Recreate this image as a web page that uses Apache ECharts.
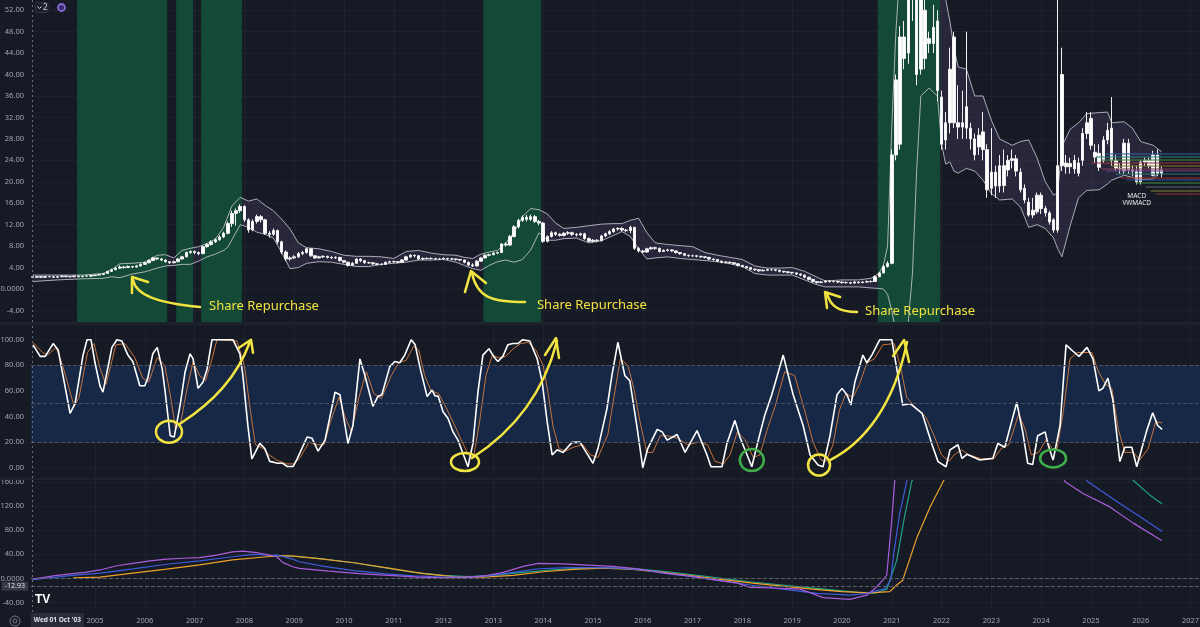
<!DOCTYPE html>
<html>
<head>
<meta charset="utf-8">
<title>Share Repurchase</title>
<script src="https://cdn.jsdelivr.net/npm/echarts@6/dist/echarts.min.js"></script>
<style>
  html, body { margin: 0; padding: 0; background: #161a25; }
  #chart { width: 1200px; height: 627px; }
</style>
</head>
<body>
<div id="chart"></div>
<script>
// monthly candles [open, close, low, high]
var y2003 = [[2.3,2.2,2.1,2.4],[2.2,2.3,2.1,2.4],[2.3,2.2,2.1,2.4]];
var y2004 = [[2.2,2.3,2.1,2.4],[2.3,2.3,2.2,2.4],[2.3,2.2,2.1,2.4],[2.2,2.3,2.1,2.4],[2.3,2.4,2.2,2.5],[2.4,2.3,2.2,2.5],[2.3,2.3,2.2,2.4],[2.3,2.4,2.2,2.5],[2.4,2.3,2.2,2.5],[2.3,2.4,2.2,2.5],[2.4,2.4,2.3,2.6],[2.4,2.5,2.3,2.6]];
var y2005 = [[2.5,2.6,2.4,2.7],[2.6,2.7,2.5,2.8],[2.7,2.9,2.6,3.0],[2.9,3.3,2.8,3.4],[3.3,3.6,3.2,3.8],[3.6,3.9,3.5,4.1],[3.9,4.1,3.7,4.4],[4.1,4.0,3.8,4.3],[4.0,4.2,3.9,4.4],[4.2,4.1,3.9,4.3],[4.1,4.3,4.0,4.5],[4.3,4.6,4.2,4.8]];
var y2006 = [[4.6,4.9,4.5,5.1],[4.9,5.3,4.8,5.5],[5.3,5.8,5.2,6.0],[5.8,5.6,5.4,5.9],[5.6,5.4,5.2,5.8],[5.4,5.1,4.9,5.5],[5.1,4.9,4.7,5.2],[4.9,5.1,4.8,5.3],[5.1,5.6,5.0,5.8],[5.6,6.0,5.5,6.2],[6.0,6.8,5.9,7.0],[6.8,7.0,6.6,7.2]];
var y2007 = [[7.0,6.8,6.5,7.2],[6.8,6.6,6.3,7.0],[6.6,7.9,6.5,8.1],[7.9,8.3,7.7,8.6],[8.3,8.8,8.1,9.1],[8.8,9.2,8.6,9.5],[9.2,9.7,9.0,10.0],[9.7,10.4,9.5,10.7],[10.4,12.2,10.2,12.6],[12.2,14.1,11.6,14.6],[14.1,14.6,11.8,15.0],[14.6,15.4,14.2,15.8]];
var y2008 = [[15.4,12.9,12.5,15.6],[12.9,11.0,10.5,13.2],[11.0,12.6,10.8,13.0],[12.6,13.5,12.2,13.9],[13.5,12.9,12.4,13.8],[12.9,10.4,10.1,13.1],[10.4,10.2,9.6,10.8],[10.2,10.9,9.9,11.3],[10.9,8.8,8.4,11.1],[8.8,6.9,6.5,9.0],[6.9,5.6,5.2,7.2],[5.6,5.8,5.3,6.1]];
var y2009 = [[5.8,6.0,5.6,6.3],[6.0,6.6,5.8,6.9],[6.6,6.8,6.3,7.1],[6.8,7.5,6.6,7.7],[7.5,6.2,6.0,7.6],[6.2,5.8,5.6,6.3],[5.8,6.0,5.7,6.2],[6.0,6.1,5.8,6.3],[6.1,5.9,5.7,6.2],[5.9,5.8,5.6,6.1],[5.8,5.9,5.6,6.1],[5.9,5.3,5.1,6.0]];
var y2010 = [[5.3,5.0,4.8,5.4],[5.0,4.4,4.2,5.1],[4.4,4.8,4.3,5.0],[4.8,5.6,4.7,5.7],[5.6,5.3,5.0,5.7],[5.3,4.9,4.7,5.4],[4.9,4.9,4.7,5.1],[4.9,4.7,4.5,5.0],[4.7,4.6,4.4,4.8],[4.6,4.6,4.4,4.8],[4.6,5.0,4.5,5.1],[5.0,5.1,4.9,5.3]];
var y2011 = [[5.1,5.1,4.9,5.3],[5.1,5.0,4.8,5.2],[5.0,5.4,4.9,5.6],[5.4,6.0,5.3,6.2],[6.0,6.3,5.8,6.5],[6.3,6.2,5.9,6.4],[6.2,5.6,5.4,6.3],[5.6,5.7,5.4,5.9],[5.7,5.7,5.5,5.9],[5.7,5.7,5.5,5.9],[5.7,5.6,5.4,5.8],[5.6,5.6,5.4,5.8]];
var y2012 = [[5.6,5.7,5.5,5.9],[5.7,5.6,5.4,5.8],[5.6,5.6,5.4,5.8],[5.6,5.5,5.3,5.7],[5.5,5.4,5.2,5.6],[5.4,5.0,4.8,5.5],[5.0,4.5,4.3,5.1],[4.5,4.3,4.1,4.8],[4.3,5.2,4.2,5.4],[5.2,5.8,5.1,6.0],[5.8,6.3,5.7,6.5],[6.3,6.4,6.1,6.6]];
var y2013 = [[6.4,6.7,6.3,6.9],[6.7,6.8,6.5,7.0],[6.8,8.4,6.7,8.6],[8.4,8.2,7.9,8.7],[8.2,9.8,8.0,10.1],[9.8,11.6,9.6,11.9],[11.6,12.8,11.3,13.1],[12.8,13.4,12.5,13.7],[13.4,13.0,12.6,13.8],[13.0,13.5,12.7,13.9],[13.5,12.6,12.3,13.8],[12.6,12.3,11.9,12.9]];
var y2014 = [[12.3,8.9,8.6,12.5],[8.9,9.8,8.7,10.0],[9.8,10.5,9.6,10.8],[10.5,10.2,9.9,10.7],[10.2,10.0,9.8,10.4],[10.0,10.4,9.8,10.6],[10.4,10.5,10.1,10.8],[10.5,10.2,9.9,10.7],[10.2,10.1,9.8,10.4],[10.1,10.3,9.9,10.5],[10.3,9.4,9.2,10.5],[9.4,8.9,8.7,9.6]];
var y2015 = [[8.9,9.1,8.7,9.3],[9.1,9.0,8.7,9.3],[9.0,9.9,8.9,10.1],[9.9,10.3,9.7,10.5],[10.3,10.7,10.1,11.0],[10.7,11.2,10.5,11.4],[11.2,11.3,10.9,11.5],[11.3,11.0,10.7,11.5],[11.0,10.9,10.6,11.2],[10.9,11.5,10.4,11.8],[11.5,7.6,7.3,11.6],[7.6,7.1,6.8,7.8]];
var y2016 = [[7.1,6.9,6.7,7.3],[6.9,7.5,6.8,7.7],[7.5,7.7,7.3,7.9],[7.7,7.6,7.3,7.9],[7.6,7.0,6.8,7.7],[7.0,7.2,6.9,7.4],[7.2,7.3,7.0,7.5],[7.3,7.1,6.9,7.4],[7.1,6.8,6.6,7.2],[6.8,6.6,6.4,6.9],[6.6,6.3,6.1,6.7],[6.3,6.2,6.0,6.4]];
var y2017 = [[6.2,6.2,6.0,6.4],[6.2,6.1,5.9,6.3],[6.1,6.0,5.8,6.2],[6.0,5.9,5.7,6.1],[5.9,5.6,5.4,6.0],[5.6,5.5,5.3,5.7],[5.5,5.2,5.0,5.6],[5.2,5.0,4.8,5.3],[5.0,5.0,4.8,5.2],[5.0,4.9,4.7,5.1],[4.9,4.7,4.5,5.0],[4.7,4.4,4.2,4.8]];
var y2018 = [[4.4,4.2,4.0,4.5],[4.2,4.0,3.8,4.3],[4.0,3.7,3.5,4.1],[3.7,3.6,3.4,3.8],[3.6,3.4,3.2,3.7],[3.4,3.5,3.3,3.7],[3.5,3.6,3.4,3.8],[3.6,3.6,3.4,3.8],[3.6,3.5,3.3,3.7],[3.5,3.3,3.1,3.6],[3.3,3.2,3.0,3.4],[3.2,3.1,2.9,3.3]];
var y2019 = [[3.1,3.0,2.8,3.2],[3.0,2.8,2.6,3.1],[2.8,2.6,2.4,2.9],[2.6,2.2,2.0,2.7],[2.2,1.8,1.6,2.3],[1.8,1.4,1.2,1.9],[1.4,1.2,1.0,1.5],[1.2,1.3,1.1,1.5],[1.3,1.5,1.2,1.7],[1.5,1.4,1.2,1.6],[1.4,1.4,1.2,1.6],[1.4,1.3,1.1,1.5]];
var y2020 = [[1.3,1.2,1.0,1.4],[1.2,1.2,1.0,1.4],[1.2,1.1,0.9,1.3],[1.1,1.3,1.0,1.5],[1.3,1.2,1.0,1.4],[1.2,1.3,1.1,1.5],[1.3,1.4,1.2,1.6],[1.4,1.4,1.2,1.6],[1.4,2.3,1.3,2.5],[2.3,3.0,2.2,3.2],[3.0,4.2,2.9,4.5],[4.2,4.8,4.0,5.2]];
var y2021 = [[4.8,25,4.6,26],[25,39,24,40],[27,47,26,49],[47,43,41,50],[44,56,42,60],[56,58,50,64],[55,40,38,58],[41,56,40,60],[52,43,41,56],[46.7,45.8,44,48],[45.8,48.8,44,53],[50,37,35,52]];
var y2022 = [[35.8,27,26,37],[27.8,31,26,33],[31,41,29,45],[47,31,30,48],[31,30.2,28,38],[30.2,31,28,37],[30,34,28,48],[30,28,26,31],[28,25,24,29],[26.5,28.7,25,30],[29.3,26,24,33],[26,18.5,17,27]];
var y2023 = [[18.8,21.8,17.5,30],[21.8,19.2,17,23],[19.2,23,18,25],[23,19.3,18,26],[22.2,24,21,25],[24,24.3,22.5,26],[24.3,22,21,25],[21.8,18.5,18,22.5],[18.8,16.6,16,19.5],[16.2,13.8,13.5,17],[13.8,14.7,13.2,17],[14.4,17.5,14,18]];
var y2024 = [[17.5,15,14,18],[15,14.2,13.5,15.5],[14.2,12.5,12,14.6],[12.9,11,10.5,13.2],[11,23,10.5,58],[23,40,22,45],[23.5,22.8,21.5,25],[22.8,23.4,21.5,24.5],[22.4,24,21.5,25],[23.5,21.6,21,24.5],[24,29,23,30],[29,31,28,33]];
var y2025 = [[31.8,26.8,26,33],[25.5,24.6,23.5,27],[25.3,22.7,22,27],[24,27.8,23.5,28.5],[27.8,29.6,27,31],[30,24,23,35.8],[24,22.5,22,25],[22.5,22.4,21.5,23.5],[22,27.2,21.5,28],[27.2,22.2,21.5,28],[22.2,22,21,23],[22,20,19.5,23]];
var y2026 = [[20,23.7,19.5,24],[23.7,24,23,24.5],[24,23,22.5,24.5],[21.2,25,21,25.8],[25,21.5,21,26],[21.5,22.2,20.8,22.8]];

// [year, first month index, candles]
var candleYears = [[2003,9,y2003],[2004,0,y2004],[2005,0,y2005],[2006,0,y2006],[2007,0,y2007],[2008,0,y2008],
  [2009,0,y2009],[2010,0,y2010],[2011,0,y2011],[2012,0,y2012],[2013,0,y2013],[2014,0,y2014],[2015,0,y2015],
  [2016,0,y2016],[2017,0,y2017],[2018,0,y2018],[2019,0,y2019],[2020,0,y2020],[2021,0,y2021],[2022,0,y2022],
  [2023,0,y2023],[2024,0,y2024],[2025,0,y2025],[2026,0,y2026]];

// envelope around price
var bandDates = ['2003-10','2004-04','2004-10','2005-03','2005-05','2005-07','2005-10','2006-01','2006-04','2006-06','2006-08','2006-10','2006-12','2007-02','2007-04','2007-06','2007-08','2007-09','2007-10','2007-12','2008-02','2008-04','2008-06','2008-08','2008-10','2008-12','2009-02','2009-04','2009-07','2009-10','2010-01','2010-04','2010-07','2010-10','2011-01','2011-04','2011-07','2011-10','2012-01','2012-04','2012-06','2012-08','2012-10','2012-12','2013-02','2013-04','2013-06','2013-08','2013-10','2013-12','2014-02','2014-04','2014-06','2014-09','2014-12','2015-03','2015-06','2015-08','2015-10','2015-12','2016-02','2016-04','2016-07','2016-10','2017-01','2017-04','2017-07','2017-10','2018-01','2018-04','2018-07','2018-10','2019-01','2019-04','2019-07','2019-09','2020-01','2020-05','2020-08','2020-10','2020-11','2020-12','2021-01','2021-02','2021-03','2021-04','2021-05','2021-06','2021-07','2021-08','2021-10','2021-12','2022-01','2022-02','2022-03','2022-04','2022-05','2022-07','2022-09','2022-11','2023-01','2023-03','2023-06','2023-08','2023-10','2023-12','2024-02','2024-04','2024-05','2024-06','2024-08','2024-10','2024-12','2025-03','2025-05','2025-06','2025-09','2025-11','2026-01','2026-04','2026-06'];
var bandUp = [2.6,2.6,2.6, 2.9,3.6,4.7,4.8, 5.0,6.3,6.4,5.8,7.2,7.6, 7.9,8.5,9.3,11.5,13.5,15.5,17.1, 16.4,16.8,15.6,14.6,13.0,11.2, 8.6,7.7,7.5,7.0, 6.3,6.1,6.1,6.0, 5.7,7.0,7.2,6.7, 6.4,6.3,5.9,5.7,6.5,6.9, 7.2,8.6,10.6,13.5,15.0,14.8, 14.0,12.3,11.3,11.5,11.8, 12.1,12.2,12.2,12.8,13.2, 10.5,8.6,8.3,8.1, 7.9,6.8,6.3,5.9, 5.5,4.3,3.9,3.9, 4.0,3.3,2.2,1.5, 1.7,1.7,2.0,3.0,4.5,8.0, 30,48,60,64,67,70,72,72,70,66, 60,54,50,45,41.4,41,36,36, 31.5,28,26.8,27.5,27.8,24.5, 20,17.5,18,26.6,29.8,31,32.7, 32.9,33,31,31.2,30, 27.5,26.8,25.6];
var bandLo = [1.4,1.7,1.9, 2.0,2.3,2.1,2.8, 3.2,3.9,4.3,4.4,4.6,4.6, 5.2,6.0,6.5,7.2,7.8,9.2,12.0, 11.5,10.6,10.2,9.5,6.8,3.8, 4.0,4.8,5.1,5.0, 4.6,4.2,4.2,4.6, 4.8,5.0,5.4,5.4, 5.5,5.0,4.4,3.8,3.5,4.4, 5.1,5.4,5.0,5.5,7.3,10.5, 9.1,9.1,9.4,9.5,8.6, 9.0,10.0,10.7,9.8,7.5, 5.6,5.8,6.0,5.7, 5.5,5.3,5.1,4.7, 4.2,2.9,2.6,2.6, 2.6,1.7,0.8,0.4, 0.4,0.4,0.2,0.1,0.0,-1.0, -4,-8,-12,-10,-6,3,22,36,37.5,36, 27,23.3,23.7,22,21.6,22.5,22,20.3, 17.8,16.6,16.8,15.3,11.5,12.0, 11.3,9.5,7.5,6.0,11.8,17.0,18.4, 18.5,19.6,20.3,21.2,20.8, 20.4,20.5,22.4];

// buyback periods (decimal years)
var zones = [[2004.64,2006.45],[2006.63,2006.97],[2007.13,2007.95],[2012.80,2013.96],[2020.72,2021.97]];

// stochastic %K and %D  [decimal year, value]
var stochK = [[2003.755,96],[2003.90,87],[2004.00,87],[2004.16,97],[2004.26,92],[2004.50,42.5],[2004.60,50],[2004.76,88],[2004.84,100],[2004.92,100],[2005.00,82],[2005.10,64],[2005.16,59],[2005.34,94],[2005.44,100],[2005.54,99],[2005.66,88],[2005.76,83],[2005.90,64],[2006.00,64],[2006.06,70],[2006.16,89],[2006.25,94],[2006.35,77],[2006.41,59],[2006.51,25],[2006.59,24],[2006.71,49],[2006.81,75],[2006.91,89],[2006.97,85],[2007.07,62],[2007.17,67],[2007.25,77],[2007.35,100],[2007.77,100],[2007.91,89],[2007.97,72],[2008.07,33],[2008.15,7],[2008.31,19],[2008.41,15],[2008.51,5],[2008.67,3.5],[2008.77,3.5],[2008.86,1],[2008.98,1],[2009.06,7],[2009.26,24],[2009.36,23],[2009.48,13],[2009.62,21.6],[2009.82,59],[2009.92,57],[2010.08,19],[2010.18,33],[2010.32,85],[2010.42,72],[2010.58,48],[2010.68,55.6],[2010.76,57],[2010.92,79],[2011.02,83],[2011.12,82],[2011.22,88],[2011.35,100],[2011.43,96],[2011.53,77.6],[2011.67,55.6],[2011.77,60.7],[2011.83,56],[2011.89,56],[2011.99,43.8],[2012.09,38.5],[2012.19,28],[2012.29,21.6],[2012.39,11.2],[2012.49,0.8],[2012.59,19],[2012.69,59],[2012.79,88],[2012.91,93],[2013.01,86.7],[2013.09,83],[2013.19,87],[2013.29,96],[2013.39,97],[2013.49,97],[2013.59,100],[2013.73,99],[2013.88,85],[2013.98,67],[2014.08,36],[2014.18,10],[2014.28,14],[2014.40,12],[2014.58,19.8],[2014.74,20],[2014.88,11],[2015.00,3.5],[2015.10,15],[2015.28,46],[2015.38,72],[2015.50,98],[2015.64,72],[2015.74,68],[2015.88,33],[2016.00,0],[2016.10,15],[2016.29,30],[2016.39,28],[2016.49,21.6],[2016.69,26],[2016.85,12],[2017.09,29],[2017.29,10],[2017.37,0.8],[2017.59,0.8],[2017.69,19],[2017.85,37],[2017.95,24],[2018.19,0.8],[2018.31,20],[2018.45,41],[2018.59,57],[2018.82,88],[2019.02,57],[2019.22,33],[2019.36,10],[2019.52,2.2],[2019.62,0.8],[2019.76,25],[2019.90,57],[2020.00,62],[2020.10,57],[2020.18,49],[2020.26,67],[2020.42,88],[2020.50,82],[2020.60,88],[2020.76,100],[2021.00,100],[2021.10,77.6],[2021.22,49],[2021.37,50],[2021.61,42.5],[2021.81,18],[2021.93,4.8],[2022.09,0.8],[2022.17,14],[2022.33,18],[2022.41,7.3],[2022.51,10.5],[2022.77,6],[2023.03,7.3],[2023.13,19],[2023.27,16],[2023.51,51],[2023.63,28],[2023.73,3.5],[2023.83,2.5],[2023.93,25],[2024.08,28],[2024.14,18],[2024.24,6],[2024.38,33],[2024.50,96],[2024.64,91],[2024.76,87],[2024.92,94],[2025.04,85],[2025.16,60],[2025.24,62],[2025.34,70],[2025.44,53],[2025.58,4.8],[2025.68,16],[2025.82,16],[2025.92,0.8],[2026.12,29],[2026.24,43],[2026.34,33],[2026.43,30]];
var stochD = [[2003.75,98],[2003.95,90],[2004.05,88],[2004.22,94],[2004.35,80],[2004.58,48],[2004.68,55],[2004.85,90],[2004.98,97],[2005.10,78],[2005.22,65],[2005.42,96],[2005.60,97],[2005.80,86],[2005.96,70],[2006.08,67],[2006.25,86],[2006.40,80],[2006.52,55],[2006.62,30],[2006.72,35],[2006.85,62],[2006.97,83],[2007.10,72],[2007.22,68],[2007.35,85],[2007.45,100],[2007.85,99],[2008.00,80],[2008.12,45],[2008.22,18],[2008.38,15],[2008.50,10],[2008.65,6],[2008.85,3],[2009.00,3],[2009.12,8],[2009.30,20],[2009.45,18],[2009.60,18],[2009.72,35],[2009.90,55],[2010.02,40],[2010.15,28],[2010.30,55],[2010.45,75],[2010.60,58],[2010.75,54],[2010.95,72],[2011.10,82],[2011.25,84],[2011.40,95],[2011.50,92],[2011.62,72],[2011.75,60],[2011.90,58],[2012.05,47],[2012.20,35],[2012.35,22],[2012.50,10],[2012.60,8],[2012.72,35],[2012.85,72],[2012.98,88],[2013.10,86],[2013.25,87],[2013.40,93],[2013.55,97],[2013.70,98],[2013.85,92],[2014.00,80],[2014.10,58],[2014.20,32],[2014.32,15],[2014.45,13],[2014.60,16],[2014.80,18],[2014.95,10],[2015.10,8],[2015.30,26],[2015.42,55],[2015.55,85],[2015.70,80],[2015.82,62],[2015.95,35],[2016.08,12],[2016.20,12],[2016.35,25],[2016.50,25],[2016.70,23],[2016.90,18],[2017.12,20],[2017.30,18],[2017.45,5],[2017.62,3],[2017.75,10],[2017.90,28],[2018.05,22],[2018.22,8],[2018.35,10],[2018.50,30],[2018.65,47],[2018.85,75],[2019.05,72],[2019.25,45],[2019.42,20],[2019.58,6],[2019.68,5],[2019.82,18],[2019.95,45],[2020.08,58],[2020.22,55],[2020.35,65],[2020.50,82],[2020.65,85],[2020.82,96],[2021.05,97],[2021.18,78],[2021.30,55],[2021.45,48],[2021.68,40],[2021.85,25],[2022.00,10],[2022.15,5],[2022.25,10],[2022.40,14],[2022.55,10],[2022.80,7],[2023.05,7],[2023.20,15],[2023.35,18],[2023.55,42],[2023.68,30],[2023.80,10],[2023.95,12],[2024.10,22],[2024.22,15],[2024.32,15],[2024.45,45],[2024.58,85],[2024.72,90],[2024.88,90],[2025.02,90],[2025.15,75],[2025.30,65],[2025.42,62],[2025.55,30],[2025.68,12],[2025.85,12],[2025.98,6],[2026.15,15],[2026.30,36],[2026.43,35]];

// MACD / VWMACD panel lines [decimal year, value]
var macdPurple = [[2003.75,-1],[2004.2,4.7],[2004.55,8],[2004.8,10],[2005.1,14],[2005.44,21],[2005.76,25],[2006.1,29],[2006.44,32],[2006.76,33.5],[2007.1,34.4],[2007.44,38.8],[2007.76,44],[2007.97,45.5],[2008.25,43],[2008.45,39.8],[2008.65,36],[2008.77,26.6],[2008.97,19.4],[2009.1,16.6],[2009.7,12],[2010.3,8],[2010.9,5],[2011.5,2],[2012.0,1],[2012.4,1],[2012.8,4],[2013.2,10],[2013.6,20],[2013.9,25],[2014.4,24],[2014.9,22],[2015.4,20],[2015.9,16],[2016.4,9],[2016.9,4],[2017.4,-2],[2017.9,-8],[2018.15,-15],[2018.6,-16],[2019.16,-18],[2019.4,-25],[2019.62,-32],[2020.16,-35],[2020.5,-28],[2020.7,-14],[2020.82,-3],[2020.9,5.5],[2021.0,97],[2021.06,163],[2021.3,320],[2022.2,420],[2023.2,360],[2024.0,240],[2024.48,161],[2024.85,141],[2025.38,119],[2025.85,92],[2026.42,63]];
var macdBlue = [[2003.75,-2],[2004.5,4.7],[2005.1,8.6],[2005.76,15.8],[2006.44,23.5],[2007.1,29],[2007.76,36],[2008.17,40],[2008.45,38.8],[2008.71,37.8],[2008.97,32],[2009.1,27.7],[2009.6,20],[2010.2,13],[2010.8,8],[2011.4,4],[2012.0,2],[2012.5,2],[2012.9,4],[2013.4,10],[2013.9,16],[2014.5,18],[2015.0,18],[2015.5,17],[2016.0,14],[2016.5,8],[2017.0,3],[2017.5,-3],[2018.15,-11],[2018.8,-18],[2019.5,-25],[2020.16,-28],[2020.5,-25],[2020.86,-17],[2020.98,-3],[2021.04,41.6],[2021.16,108],[2021.3,161],[2021.7,300],[2022.7,390],[2023.8,280],[2024.94,161],[2025.52,128],[2025.98,103],[2026.43,78]];
var macdTeal = [[2008.6,38.8],[2009.1,36],[2009.6,32],[2010.2,26],[2010.8,18],[2011.4,10],[2012.0,5],[2012.5,3],[2013.0,5],[2013.5,9],[2014.0,13],[2014.5,16],[2015.0,17],[2015.5,17],[2016.0,15],[2016.5,11],[2017.0,6],[2017.5,1],[2018.15,-5.6],[2018.8,-11],[2019.5,-16.7],[2020.16,-22],[2020.5,-25],[2020.7,-24],[2020.9,-18],[2021.1,30],[2021.25,100],[2021.4,161],[2022.3,330],[2023.5,360],[2024.8,240],[2025.88,161],[2026.18,139],[2026.43,124]];
var macdOrange = [[2004.56,1],[2005.1,2],[2005.76,8.6],[2006.44,15.3],[2007.1,22.5],[2007.76,30.8],[2008.45,36],[2008.71,37.8],[2009.0,37],[2009.5,33],[2010.2,26],[2010.9,17],[2011.6,8],[2012.2,3],[2012.8,2],[2013.4,5],[2014.0,11],[2014.6,15],[2015.2,17],[2015.8,15],[2016.4,10],[2017.0,4],[2017.6,-2],[2018.2,-8],[2018.8,-13],[2019.4,-18],[2020.0,-22],[2020.56,-24],[2020.96,-22],[2021.1,-11],[2021.22,-3],[2021.51,69],[2021.77,119],[2022.03,161],[2023.0,300],[2024.5,330],[2026.43,260]];

// coloured price levels on the right
var levelVal = [25.2,24.7,24.2,23.6,23.0,22.5,22.0,21.5,20.8,20.3,19.8,19.1,18.3,17.8];
var levelStart = [2025.3,2025.1,2025.2,2025.0,2025.4,2025.2,2025.3,2025.5,2025.6,2025.7,2025.9,2026.1,2026.2,2026.3];
var levelColor = ['#2f5f9e','#2b7f73','#3d7d45','#8e3a3a','#9a6a2e','#7d3b4f','#5e3f86','#2b6f74','#903232','#2d4f93','#3f7f3f','#5b5e68','#7f7a35','#8e3434'];

var priceTicks = [-4,0,4,8,12,16,20,24,28,32,36,40,44,48,52];
var stochTicks = [0,20,40,60,80,100];
var macdTicks = [-40,0,40,80,120,160];
var yearTicks = [2005,2006,2007,2008,2009,2010,2011,2012,2013,2014,2015,2016,2017,2018,2019,2020,2021,2022,2023,2024,2025,2026,2027];
var pointerValue = -12.93;

(function() {
  var myChart = echarts.init(document.getElementById('chart'));

  // x axis is in decimal years
  function ym(s) {
    var p = s.split('-');
    return +p[0] + (+p[1] - 1) / 12;
  }

  var xMin = 2003.715, xMax = 2027.19;
  var crossX = 2003.75;

  var candleData = [];
  candleYears.forEach(function(cy) {
    cy[2].forEach(function(q, i) {
      candleData.push([cy[0] + (cy[1] + i) / 12, q[0], q[1], q[2], q[3]]);
    });
  });
  var upperData = bandDates.map(function(d, i) { return [ym(d), bandUp[i]]; });
  var lowerData = bandDates.map(function(d, i) { return [ym(d), bandLo[i]]; });
  var bandData = bandDates.map(function(d, i) { return [ym(d), bandLo[i], bandUp[i]]; });

  var labelColor = '#a3a6af';
  var faint = 'rgba(255,255,255,0.035)';
  var dash = { type: 'dashed', color: '#5d606b', width: 1 };
  var axisFont = 7.5;

  function fmt(v) { return v === 0 ? '0.0000' : v.toFixed(2); }

  var xAxes = [0, 1, 2].map(function(i) {
    return {
      type: 'value', gridIndex: i, min: xMin, max: xMax,
      axisLine: { show: false },
      axisTick: { show: false, customValues: yearTicks },
      splitLine: { show: true, lineStyle: { color: faint } },
      axisLabel: i === 2 ? {
        customValues: yearTicks,
        formatter: function(v) { return String(Math.round(v)); },
        color: labelColor, fontSize: axisFont, margin: 5, fontFamily: 'Noto Sans'
      } : { show: false }
    };
  });
  function yAxis(i, min, max, ticks, f) {
    return {
      type: 'value', gridIndex: i, min: min, max: max,
      axisLine: { show: false },
      axisTick: { show: false, customValues: ticks },
      splitLine: { show: true, lineStyle: { color: faint } },
      axisLabel: { customValues: ticks, formatter: f, color: labelColor, fontSize: axisFont, margin: 7, fontFamily: 'Noto Sans' }
    };
  }

  function line(xi, data, color, width, z) {
    return { type: 'line', showSymbol: false, symbol: 'none', silent: true,
      xAxisIndex: xi, yAxisIndex: xi, data: data, z: z || 3,
      lineStyle: { color: color, width: width } };
  }
  function marker(xi, z, extra) {
    var s = { type: 'line', showSymbol: false, symbol: 'none', silent: true, xAxisIndex: xi, yAxisIndex: xi, data: [], z: z };
    for (var k in extra) s[k] = extra[k];
    return s;
  }

  var option = {
    backgroundColor: '#161a25',
    animation: false,
    grid: [
      { left: 31, right: 0, top: 0, height: 322, outerBoundsMode: 'none' },
      { left: 31, right: 0, top: 325, height: 153, outerBoundsMode: 'none' },
      { left: 31, right: 0, top: 480, height: 132, outerBoundsMode: 'none' }
    ],
    xAxis: xAxes,
    yAxis: [
      yAxis(0, -6.15, 53.9, priceTicks, fmt),
      yAxis(1, -8, 111.5, stochTicks, function(v) { return v.toFixed(2); }),
      yAxis(2, -56, 163.8, macdTicks, fmt)
    ],
    series: [
      // fill between the envelope lines (sits under the buyback highlight)
      {
        type: 'custom', xAxisIndex: 0, yAxisIndex: 0, data: bandData, z: 1, silent: true,
        encode: { x: 0, y: [1, 2] },
        renderItem: function(params, api) {
          if (params.dataIndex !== 0) return;
          var up = [], lo = [];
          for (var i = 0; i < bandData.length; i++) {
            up.push(api.coord([bandData[i][0], bandData[i][2]]));
            lo.unshift(api.coord([bandData[i][0], bandData[i][1]]));
          }
          var cs = params.coordSys;
          return {
            type: 'polygon',
            shape: { points: up.concat(lo) },
            style: { fill: 'rgba(150,105,180,0.15)' },
            clipPath: { type: 'rect', shape: { x: cs.x, y: cs.y, width: cs.width, height: cs.height } }
          };
        }
      },
      // buyback zones + crosshair (price pane)
      marker(0, 2, {
        markArea: { silent: true, z: 2, itemStyle: { color: '#134936' },
          data: zones.map(function(z) { return [{ xAxis: z[0] }, { xAxis: z[1] }]; }) },
        markLine: { silent: true, symbol: ['none', 'none'], label: { show: false },
          lineStyle: { type: [2, 3], color: '#6a6d78', width: 1 }, data: [{ xAxis: crossX }] }
      }),
      Object.assign(line(0, upperData, '#c4c4d0', 1, 3), { lineStyle: { color: '#c4c4d0', width: 1, opacity: 0.85 } }),
      Object.assign(line(0, lowerData, '#c4c4d0', 1, 3), { lineStyle: { color: '#c4c4d0', width: 1, opacity: 0.85 } }),
      {
        type: 'candlestick', xAxisIndex: 0, yAxisIndex: 0, data: candleData, z: 4, barWidth: 3, silent: true,
        itemStyle: { color: '#ffffff', color0: '#ffffff', borderColor: '#f0f0f0', borderColor0: '#f0f0f0', borderWidth: 1 },
        markLine: { silent: true, symbol: ['none', 'none'], label: { show: false },
          data: levelVal.map(function(v, i) {
            return [{ coord: [levelStart[i], v], lineStyle: { color: levelColor[i], width: 2, opacity: 0.55, type: 'solid' } },
                    { coord: [xMax, v] }];
          }) }
      },
      // stochastic pane
      marker(1, 1, {
        markArea: { silent: true, z: 1, itemStyle: { color: '#172846' }, data: [[{ yAxis: 20 }, { yAxis: 80 }]] },
        markLine: { silent: true, symbol: ['none', 'none'], label: { show: false }, lineStyle: { type: 'dashed', color: '#4b5060', width: 1 },
          data: [{ yAxis: 80 }, { yAxis: 50 }, { yAxis: 20 }, { xAxis: crossX, lineStyle: { type: [2, 3], color: '#6a6d78' } }] }
      }),
      line(1, stochD, '#c8733a', 1, 3),
      line(1, stochK, '#ffffff', 1.6, 4),
      // MACD pane
      marker(2, 1, {
        markLine: { silent: true, symbol: ['none', 'none'], label: { show: false }, lineStyle: dash,
          data: [{ yAxis: 0 }, { yAxis: pointerValue }, { xAxis: crossX, lineStyle: { type: [2, 3], color: '#6a6d78' } }] }
      }),
      line(2, macdTeal, '#1fa284', 1.2),
      line(2, macdOrange, '#f0a12b', 1.2),
      line(2, macdBlue, '#3e5bd8', 1.2),
      line(2, macdPurple, '#a95ddb', 1.2)
    ]
  };
  myChart.setOption(option);

  // hand drawn annotations, anchored to data points, shapes in pixel offsets
  var yellow = '#f2e440', green = '#3fae49';
  var arrowNotes = [
    { at: [2005.743, 2.24], shaft: [[1,3],[4,18],[25,26],[68,30]], head: [[0,16],[0,0],[16,5]], text: [77,29] },
    { at: [2012.55, 3.35], shaft: [[1,2],[6,26],[20,31],[54,31]], head: [[-6,21],[0,0],[15,12]], text: [66,34] },
    { at: [2019.66, -0.56], shaft: [[2,1],[5,15],[15,20],[32,20]], head: [[2,16],[0,0],[15,5]], text: [40,19] }
  ];
  var circleNotes = [
    { at: [2006.486, 28.1], rx: 13, ry: 11, color: yellow, shaft: [[11,-8],[45,-30],[68,-55],[81,-90]], head: [[70,-84],[82,-92],[84,-79]] },
    { at: [2012.43, 4.5], rx: 14, ry: 9, color: yellow, shaft: [[7,-4],[35,-22],[75,-55],[92,-121]], head: [[80,-107],[91,-124],[94,-104]] },
    { at: [2019.54, 2.1], rx: 11, ry: 10.5, color: yellow, shaft: [[11,-5],[45,-22],[75,-60],[88,-123]], head: [[74,-109],[85,-125],[90,-103]] },
    { at: [2018.19, 6.0], rx: 12, ry: 11, color: green },
    { at: [2024.24, 7.3], rx: 13, ry: 9, color: green }
  ];

  var g = [];
  function off(p, o) { return [p[0] + o[0], p[1] + o[1]]; }
  function arrow(p, shaft, head, color) {
    var s = shaft.map(function(o) { return off(p, o); });
    g.push({ type: 'bezierCurve', z: 100, silent: true,
      shape: { x1: s[0][0], y1: s[0][1], cpx1: s[1][0], cpy1: s[1][1], cpx2: s[2][0], cpy2: s[2][1], x2: s[3][0], y2: s[3][1] },
      style: { stroke: color, lineWidth: 2.5, fill: 'none', lineCap: 'round' } });
    g.push({ type: 'polyline', z: 100, silent: true,
      shape: { points: head.map(function(o) { return off(p, o); }) },
      style: { stroke: color, lineWidth: 2.5, fill: 'none', lineCap: 'round', lineJoin: 'round' } });
  }
  arrowNotes.forEach(function(a) {
    var p = myChart.convertToPixel({ gridIndex: 0 }, a.at);
    arrow(p, a.shaft, a.head, yellow);
    var t = off(p, a.text);
    g.push({ type: 'text', z: 100, silent: true,
      style: { text: 'Share Repurchase', x: t[0], y: t[1], fill: yellow, fontSize: 13, fontFamily: 'Noto Sans', verticalAlign: 'middle' } });
  });
  circleNotes.forEach(function(c) {
    var p = myChart.convertToPixel({ gridIndex: 1 }, c.at);
    g.push({ type: 'ellipse', z: 100, silent: true, shape: { cx: p[0], cy: p[1], rx: c.rx, ry: c.ry },
      style: { fill: 'none', stroke: c.color, lineWidth: 2.5 } });
    if (c.shaft) arrow(p, c.shaft, c.head, c.color);
  });

  // indicator tags near last candle
  var tag = myChart.convertToPixel({ gridIndex: 0 }, [2025.92, 18.1]);
  g.push({ type: 'text', z: 100, silent: true, style: { text: 'MACD\nVWMACD', x: tag[0], y: tag[1], fill: '#e8e8ee',
    fontSize: 6.5, lineHeight: 7.5, fontFamily: 'Noto Sans', align: 'center', verticalAlign: 'top' } });

  // crosshair labels
  var cx = myChart.convertToPixel({ gridIndex: 2 }, [crossX, 0]);
  g.push({ type: 'text', z: 100, silent: true, style: { text: "Wed 01 Oct '03", x: cx[0] - 2, y: 613, fill: '#e0e3eb',
    fontSize: 6.5, fontWeight: 'bold', fontFamily: 'Noto Sans', backgroundColor: '#2a2e39', padding: [4, 3, 4, 3] } });
  var cy = myChart.convertToPixel({ gridIndex: 2 }, [crossX, pointerValue]);
  g.push({ type: 'text', z: 100, silent: true, style: { text: pointerValue.toFixed(2), x: 28, y: cy[1], fill: '#e0e3eb',
    fontSize: 7, fontFamily: 'Noto Sans', align: 'right', verticalAlign: 'middle', backgroundColor: '#363a45', padding: [1, 3, 1, 3] } });

  // pane separators and chrome
  g.push({ type: 'rect', z: 90, silent: true, shape: { x: 0, y: 322, width: 1200, height: 3 }, style: { fill: '#1e222d' } });
  g.push({ type: 'rect', z: 90, silent: true, shape: { x: 0, y: 478, width: 1200, height: 2 }, style: { fill: '#1e222d' } });
  g.push({ type: 'rect', z: 100, silent: true, shape: { x: 35, y: 2.5, width: 13, height: 10, r: 2 }, style: { fill: '#1e222d', stroke: '#2f333e' } });
  g.push({ type: 'polyline', z: 101, silent: true, shape: { points: [[37.5, 6.5], [39.5, 8.5], [41.5, 6.5]] }, style: { stroke: '#d1d4dc', lineWidth: 1, fill: 'none' } });
  g.push({ type: 'text', z: 101, silent: true, style: { text: '2', x: 43, y: 8, fill: '#d1d4dc', fontSize: 8, fontFamily: 'Noto Sans', verticalAlign: 'middle' } });
  g.push({ type: 'circle', z: 100, silent: true, shape: { cx: 61.5, cy: 7.5, r: 3.5 }, style: { fill: '#3b2a6e', stroke: '#8c6ad8', lineWidth: 1.8 } });
  g.push({ type: 'text', z: 100, silent: true, style: { text: 'TV', x: 35, y: 600, fill: '#ffffff', fontSize: 12, fontWeight: 900,
    fontFamily: 'Liberation Sans', verticalAlign: 'middle' } });
  g.push({ type: 'circle', z: 100, silent: true, shape: { cx: 15, cy: 621, r: 5 }, style: { fill: 'none', stroke: '#787b86', lineWidth: 1 } });
  g.push({ type: 'circle', z: 100, silent: true, shape: { cx: 15, cy: 621, r: 2 }, style: { fill: 'none', stroke: '#787b86', lineWidth: 1 } });

  myChart.setOption({ graphic: g });

  window.addEventListener('resize', function() {
    myChart.resize();
  });
})();
</script>
</body>
</html>
